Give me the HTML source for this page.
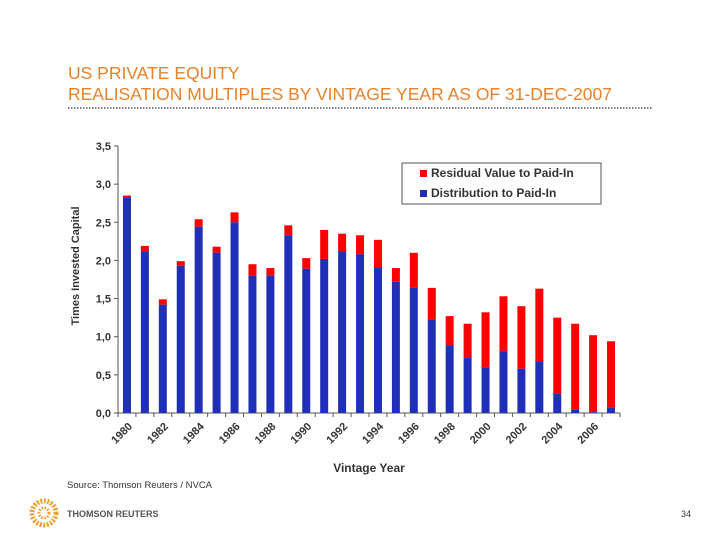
<!DOCTYPE html>
<html><head><meta charset="utf-8"><style>
body{margin:0;background:#fff;width:720px;height:540px;overflow:hidden;font-family:"Liberation Sans",sans-serif}
svg{display:block}
</style></head><body>
<svg id="chart" width="720" height="540" xmlns="http://www.w3.org/2000/svg" font-family="Liberation Sans, sans-serif">
<text x="68" y="79" font-size="17.5" fill="#E8822A">US PRIVATE EQUITY</text>
<text x="68" y="100" font-size="17.5" fill="#E8822A">REALISATION MULTIPLES BY VINTAGE YEAR AS OF 31-DEC-2007</text>
<line x1="68" y1="108" x2="652" y2="108" stroke="#555" stroke-width="1.5" stroke-dasharray="1.5,1.5"/>
<g id="plot"></g>
<rect x="402" y="163" width="199" height="41" fill="#fff" stroke="#555" stroke-width="1"/>
<rect x="420" y="170" width="7" height="7" fill="#f00"/>
<text x="431" y="177" font-size="12" font-weight="bold" fill="#333">Residual Value to Paid-In</text>
<rect x="420" y="190" width="7" height="7" fill="#1f2fb8"/>
<text x="431" y="197" font-size="12" font-weight="bold" fill="#333">Distribution to Paid-In</text>
<text transform="translate(79,266) rotate(-90)" text-anchor="middle" font-size="11" font-weight="bold" fill="#333">Times Invested Capital</text>
<text x="369" y="472" text-anchor="middle" font-size="12" font-weight="bold" fill="#333">Vintage Year</text>
<text x="67" y="488" font-size="9.5" fill="#333">Source: Thomson Reuters / NVCA</text>
<g>
<circle cx="44" cy="513" r="12" fill="none" stroke="#F0A030" stroke-width="5" stroke-dasharray="2,1.5"/>
<circle cx="44" cy="513" r="5" fill="none" stroke="#F0A030" stroke-width="3" stroke-dasharray="1.5,1.5"/>
<text x="67" y="517" font-size="9" font-weight="bold" fill="#555">THOMSON REUTERS</text>
</g>
<text x="691" y="517" text-anchor="end" font-size="9" fill="#333">34</text>
</svg>
<script>
const years=[1980,1981,1982,1983,1984,1985,1986,1987,1988,1989,1990,1991,1992,1993,1994,1995,1996,1997,1998,1999,2000,2001,2002,2003,2004,2005,2006,2007];
const distribution=[2.83,2.12,1.42,1.93,2.44,2.10,2.50,1.80,1.80,2.33,1.89,2.02,2.11,2.08,1.90,1.72,1.64,1.22,0.89,0.72,0.60,0.81,0.58,0.68,0.25,0.05,0.01,0.07];
const total=[2.85,2.19,1.49,1.99,2.54,2.18,2.63,1.95,1.90,2.46,2.03,2.40,2.35,2.33,2.27,1.90,2.10,1.64,1.27,1.17,1.32,1.53,1.40,1.63,1.25,1.17,1.02,0.94];
const yTicks=[0,0.5,1,1.5,2,2.5,3,3.5];
const yTickLabels=["0,0","0,5","1,0","1,5","2,0","2,5","3,0","3,5"];
const NS="http://www.w3.org/2000/svg";
const g=document.getElementById('plot');
const x0=118,x1=620,y0=413,yTop=146,yMax=3.5;
const step=(x1-x0)/years.length;
function y(v){return y0-(v/yMax)*(y0-yTop);}
function xc(i){return x0+step*(i+0.5);}
function mk(t,a){const e=document.createElementNS(NS,t);for(const k in a)e.setAttribute(k,a[k]);g.appendChild(e);return e;}
let ax=mk('line',{x1:x0,y1:yTop,x2:x0,y2:y0,stroke:'#555'});


let bx=mk('line',{x1:x0,y1:y0,x2:x1,y2:y0,stroke:'#555'});


yTicks.forEach((v,i)=>{
 let t=mk('line',{x1:x0-4,y1:y(v),x2:x0,y2:y(v),stroke:'#555'});
 
 
 let l=mk('text',{x:x0-7,y:y(v)+4,'text-anchor':'end','font-size':11,'font-weight':'bold',fill:'#333'});
 l.textContent=yTickLabels[i];
 
 
});
for(let i=0;i<=years.length;i++){
 let t=mk('line',{x1:x0+step*i,y1:y0,x2:x0+step*i,y2:y0+4,stroke:'#555'});
 
 
}
years.forEach((yr,i)=>{
 const w=8,cx=xc(i);
 let r=mk('rect',{x:cx-w/2,y:y(total[i]),width:w,height:y(distribution[i])-y(total[i]),fill:'#f00'});
 
 
 let b=mk('rect',{x:cx-w/2,y:y(distribution[i]),width:w,height:y0-y(distribution[i]),fill:'#1f2fb8'});
 
 
 if(i%2===0){
  let l=mk('text',{transform:`translate(${cx+6},${y0+14}) rotate(-45)`,'text-anchor':'end','font-size':11,'font-weight':'bold',fill:'#333'});
  l.textContent=yr;
  
  
 }
});
</script>
</body></html>
